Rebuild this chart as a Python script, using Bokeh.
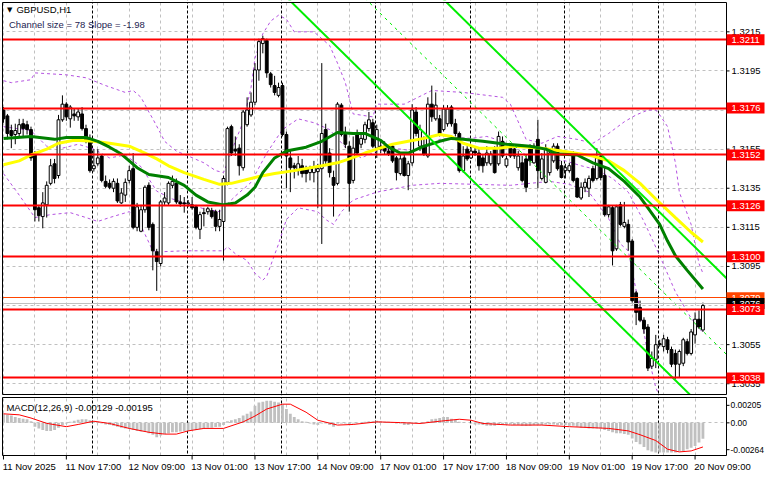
from bokeh.plotting import figure
from bokeh.layouts import column
from bokeh.models import Range1d, FixedTicker, Label, ColumnDataSource
from bokeh.core.properties import value
from bokeh.embed import file_html
from bokeh.resources import INLINE

# ---------------- data ----------------
symbol = "GBPUSD,H1"
bar_idx = list(range(1, 180))  # hourly bars, 0 = 11 Nov 00:00 (weekend skipped)

opens = [1.31750, 1.31720, 1.31645, 1.31625, 1.31630, 1.31680, 1.31675, 1.31650, 1.31525, 1.31250,
         1.31205, 1.31265, 1.31375, 1.31475, 1.31415, 1.31700, 1.31780, 1.31705, 1.31730, 1.31715,
         1.31730, 1.31655, 1.31605, 1.31450, 1.31475, 1.31515, 1.31385, 1.31375, 1.31350, 1.31375,
         1.31275, 1.31315, 1.31390, 1.31450, 1.31150, 1.31130, 1.31240, 1.31365, 1.31165, 1.31025,
         1.30965, 1.31280, 1.31275, 1.31365, 1.31375, 1.31280, 1.31275, 1.31270, 1.31265, 1.31255,
         1.31140, 1.31225, 1.31230, 1.31235, 1.31230, 1.31155, 1.31180, 1.31380, 1.31665, 1.31550,
         1.31555, 1.31455, 1.31675, 1.31725, 1.31790, 1.31955, 1.32090, 1.32105, 1.31935, 1.31875,
         1.31825, 1.31875, 1.31625, 1.31505, 1.31465, 1.31440, 1.31465, 1.31450, 1.31430, 1.31430,
         1.31435, 1.31450, 1.31650, 1.31530, 1.31405, 1.31375, 1.31775, 1.31625, 1.31565, 1.31390,
         1.31625, 1.31575, 1.31600, 1.31655, 1.31685, 1.31555, 1.31565, 1.31565, 1.31540, 1.31565,
         1.31505, 1.31425, 1.31505, 1.31415, 1.31480, 1.31740, 1.31565, 1.31565, 1.31515, 1.31780,
         1.31705, 1.31705, 1.31650, 1.31680, 1.31765, 1.31680, 1.31630, 1.31440, 1.31550, 1.31505,
         1.31540, 1.31530, 1.31505, 1.31480, 1.31475, 1.31550, 1.31475, 1.31590, 1.31465, 1.31565,
         1.31550, 1.31455, 1.31480, 1.31500, 1.31550, 1.31480, 1.31600, 1.31400, 1.31380, 1.31430,
         1.31490, 1.31565, 1.31465, 1.31440, 1.31440, 1.31525, 1.31400, 1.31300, 1.31355, 1.31350,
         1.31450, 1.31400, 1.31515, 1.31415, 1.31215, 1.31250, 1.31040, 1.31265, 1.31155, 1.31165,
         1.31080, 1.30815, 1.30740, 1.30675, 1.30640, 1.30440, 1.30475, 1.30555, 1.30540, 1.30575,
         1.30525, 1.30505, 1.30450, 1.30455, 1.30565, 1.30505, 1.30600, 1.30680, 1.30625]

highs = [1.31765, 1.31730, 1.31675, 1.31680, 1.31705, 1.31705, 1.31695, 1.31665, 1.31540, 1.31265,
         1.31330, 1.31385, 1.31500, 1.31500, 1.31725, 1.31825, 1.31790, 1.31775, 1.31760, 1.31755,
         1.31765, 1.31675, 1.31625, 1.31550, 1.31550, 1.31525, 1.31415, 1.31395, 1.31400, 1.31400,
         1.31350, 1.31400, 1.31465, 1.31530, 1.31275, 1.31265, 1.31365, 1.31380, 1.31175, 1.31040,
         1.31290, 1.31330, 1.31385, 1.31415, 1.31400, 1.31315, 1.31305, 1.31290, 1.31305, 1.31265,
         1.31230, 1.31250, 1.31255, 1.31250, 1.31240, 1.31240, 1.31415, 1.31665, 1.31675, 1.31615,
         1.31575, 1.31750, 1.31815, 1.31840, 1.31990, 1.32115, 1.32130, 1.32115, 1.31945, 1.31925,
         1.31890, 1.31890, 1.31640, 1.31540, 1.31480, 1.31515, 1.31500, 1.31465, 1.31465, 1.31490,
         1.31475, 1.31990, 1.31680, 1.31555, 1.31440, 1.31790, 1.31785, 1.31665, 1.31590, 1.31615,
         1.31650, 1.31625, 1.31690, 1.31740, 1.31705, 1.31675, 1.31590, 1.31590, 1.31565, 1.31575,
         1.31515, 1.31525, 1.31525, 1.31490, 1.31780, 1.31765, 1.31675, 1.31615, 1.31815, 1.31875,
         1.31840, 1.31725, 1.31775, 1.31775, 1.31775, 1.31705, 1.31640, 1.31565, 1.31565, 1.31565,
         1.31565, 1.31550, 1.31525, 1.31565, 1.31540, 1.31565, 1.31640, 1.31615, 1.31515, 1.31575,
         1.31565, 1.31540, 1.31515, 1.31525, 1.31575, 1.31580, 1.31700, 1.31530, 1.31575, 1.31540,
         1.31580, 1.31580, 1.31490, 1.31475, 1.31480, 1.31540, 1.31405, 1.31380, 1.31400, 1.31415,
         1.31465, 1.31555, 1.31530, 1.31455, 1.31265, 1.31260, 1.31265, 1.31280, 1.31280, 1.31190,
         1.31090, 1.30825, 1.30775, 1.30690, 1.30655, 1.30515, 1.30600, 1.30575, 1.30600, 1.30590,
         1.30540, 1.30525, 1.30525, 1.30585, 1.30580, 1.30630, 1.30715, 1.30725, 1.30765]

lows = [1.31685, 1.31600, 1.31555, 1.31575, 1.31615, 1.31615, 1.31625, 1.31490, 1.31180, 1.31180,
        1.31145, 1.31200, 1.31365, 1.31375, 1.31400, 1.31690, 1.31695, 1.31660, 1.31695, 1.31695,
        1.31645, 1.31580, 1.31430, 1.31435, 1.31465, 1.31380, 1.31350, 1.31345, 1.31330, 1.31275,
        1.31270, 1.31280, 1.31375, 1.31140, 1.31130, 1.31125, 1.31225, 1.31135, 1.30930, 1.30825,
        1.30950, 1.31265, 1.31265, 1.31350, 1.31270, 1.31255, 1.31225, 1.31255, 1.31240, 1.31140,
        1.31090, 1.31155, 1.31215, 1.31195, 1.31130, 1.31130, 1.30980, 1.31365, 1.31515, 1.31515,
        1.31415, 1.31440, 1.31665, 1.31715, 1.31775, 1.31900, 1.32040, 1.31915, 1.31865, 1.31825,
        1.31815, 1.31615, 1.31350, 1.31330, 1.31400, 1.31415, 1.31405, 1.31380, 1.31390, 1.31380,
        1.31250, 1.31065, 1.31465, 1.31405, 1.31205, 1.31365, 1.31615, 1.31555, 1.31230, 1.31375,
        1.31515, 1.31555, 1.31580, 1.31640, 1.31555, 1.31505, 1.31530, 1.31525, 1.31515, 1.31480,
        1.31390, 1.31415, 1.31410, 1.31340, 1.31465, 1.31615, 1.31540, 1.31515, 1.31505, 1.31690,
        1.31695, 1.31615, 1.31640, 1.31665, 1.31665, 1.31615, 1.31430, 1.31430, 1.31490, 1.31500,
        1.31515, 1.31440, 1.31430, 1.31465, 1.31465, 1.31425, 1.31465, 1.31505, 1.31455, 1.31505,
        1.31500, 1.31440, 1.31380, 1.31330, 1.31465, 1.31475, 1.31350, 1.31390, 1.31375, 1.31415,
        1.31480, 1.31440, 1.31400, 1.31400, 1.31430, 1.31380, 1.31300, 1.31290, 1.31330, 1.31305,
        1.31380, 1.31390, 1.31390, 1.31205, 1.31200, 1.30955, 1.31030, 1.31155, 1.31145, 1.31030,
        1.30765, 1.30650, 1.30665, 1.30605, 1.30415, 1.30425, 1.30430, 1.30540, 1.30515, 1.30505,
        1.30435, 1.30375, 1.30380, 1.30440, 1.30495, 1.30495, 1.30555, 1.30630, 1.30615]

closes = [1.31705, 1.31630, 1.31620, 1.31645, 1.31675, 1.31655, 1.31650, 1.31505, 1.31240, 1.31210,
          1.31275, 1.31365, 1.31465, 1.31400, 1.31700, 1.31780, 1.31715, 1.31765, 1.31720, 1.31740,
          1.31655, 1.31590, 1.31440, 1.31465, 1.31505, 1.31390, 1.31360, 1.31355, 1.31385, 1.31285,
          1.31325, 1.31380, 1.31440, 1.31150, 1.31255, 1.31240, 1.31355, 1.31150, 1.31030, 1.30975,
          1.31280, 1.31300, 1.31375, 1.31385, 1.31280, 1.31270, 1.31270, 1.31275, 1.31250, 1.31150,
          1.31215, 1.31220, 1.31245, 1.31205, 1.31155, 1.31190, 1.31400, 1.31655, 1.31530, 1.31540,
          1.31465, 1.31740, 1.31750, 1.31790, 1.31955, 1.32100, 1.32115, 1.31940, 1.31880, 1.31840,
          1.31865, 1.31625, 1.31515, 1.31455, 1.31455, 1.31475, 1.31425, 1.31425, 1.31450, 1.31460,
          1.31450, 1.31630, 1.31490, 1.31430, 1.31365, 1.31780, 1.31625, 1.31575, 1.31375, 1.31555,
          1.31530, 1.31605, 1.31675, 1.31700, 1.31565, 1.31650, 1.31550, 1.31540, 1.31525, 1.31490,
          1.31430, 1.31500, 1.31415, 1.31475, 1.31750, 1.31630, 1.31650, 1.31525, 1.31780, 1.31715,
          1.31775, 1.31630, 1.31755, 1.31755, 1.31680, 1.31630, 1.31440, 1.31515, 1.31500, 1.31540,
          1.31530, 1.31465, 1.31465, 1.31530, 1.31525, 1.31430, 1.31615, 1.31515, 1.31500, 1.31515,
          1.31515, 1.31515, 1.31390, 1.31355, 1.31490, 1.31565, 1.31440, 1.31500, 1.31555, 1.31530,
          1.31565, 1.31450, 1.31405, 1.31455, 1.31465, 1.31390, 1.31305, 1.31355, 1.31380, 1.31400,
          1.31390, 1.31505, 1.31405, 1.31215, 1.31255, 1.31030, 1.31255, 1.31165, 1.31175, 1.31075,
          1.30775, 1.30715, 1.30675, 1.30630, 1.30430, 1.30480, 1.30550, 1.30550, 1.30580, 1.30525,
          1.30450, 1.30450, 1.30515, 1.30575, 1.30505, 1.30615, 1.30680, 1.30640, 1.30750]

# moving averages (dark green and yellow), read at sample bars
ma_green_idx = [1, 8, 14, 17, 22, 25, 28, 31, 35, 38, 43, 47, 50, 53, 57, 60, 63, 65, 67, 70, 73, 78, 82,
                86, 90, 93, 97, 99, 102, 104, 108, 112, 115, 118, 123, 129, 135, 139, 142, 147, 151, 155,
                159, 163, 165, 168, 170, 172, 175, 179]
ma_green = [1.31605, 1.31615, 1.31600, 1.31610, 1.31610, 1.31590, 1.31560, 1.31525, 1.31455, 1.31420,
            1.31405, 1.31365, 1.31315, 1.31280, 1.31265, 1.31275, 1.31315, 1.31355, 1.31430, 1.31505,
            1.31540, 1.31560, 1.31590, 1.31635, 1.31630, 1.31630, 1.31595, 1.31560, 1.31530, 1.31530,
            1.31565, 1.31590, 1.31605, 1.31600, 1.31590, 1.31575, 1.31565, 1.31550, 1.31525, 1.31520,
            1.31480, 1.31450, 1.31385, 1.31305, 1.31250, 1.31165, 1.31080, 1.31005, 1.30930, 1.30835]
ma_yellow_idx = [1, 5, 8, 12, 15, 19, 24, 28, 33, 37, 40, 43, 47, 52, 56, 59, 63, 66, 70, 75, 82, 86, 89,
                 93, 96, 100, 104, 108, 112, 115, 118, 122, 127, 131, 138, 143, 148, 151, 155, 159, 163,
                 167, 172, 176, 179]
ma_yellow = [1.31470, 1.31490, 1.31520, 1.31550, 1.31580, 1.31595, 1.31590, 1.31580, 1.31565, 1.31530,
             1.31500, 1.31465, 1.31430, 1.31395, 1.31370, 1.31375, 1.31395, 1.31410, 1.31425, 1.31440,
             1.31465, 1.31480, 1.31500, 1.31530, 1.31550, 1.31575, 1.31590, 1.31605, 1.31625, 1.31615,
             1.31580, 1.31555, 1.31555, 1.31565, 1.31555, 1.31540, 1.31525, 1.31515, 1.31490, 1.31440,
             1.31375, 1.31295, 1.31200, 1.31125, 1.31075]

# Bollinger bands (purple dashed), read at sample bars
bb_upper_idx = [1, 3, 8, 9, 17, 22, 27, 32, 34, 36, 38, 39, 41, 42, 45, 48, 52, 55, 57, 58, 60, 62, 64,
                65, 67, 69, 71, 73, 75, 80, 84, 86, 88, 90, 95, 96, 103, 110, 118, 128, 130, 134, 138,
                142, 147, 151, 155, 159, 162, 165, 167, 168, 170, 172, 173, 176, 178, 179]
bb_upper = [1.31900, 1.31890, 1.31905, 1.31940, 1.31930, 1.31915, 1.31875, 1.31840, 1.31850, 1.31815,
            1.31740, 1.31705, 1.31630, 1.31590, 1.31540, 1.31515, 1.31480, 1.31440, 1.31430, 1.31480,
            1.31590, 1.31690, 1.31865, 1.32015, 1.32140, 1.32205, 1.32235, 1.32215, 1.32150, 1.32150,
            1.32080, 1.31990, 1.31890, 1.31730, 1.31715, 1.31780, 1.31780, 1.31850, 1.31840, 1.31815,
            1.31780, 1.31600, 1.31580, 1.31615, 1.31600, 1.31580, 1.31630, 1.31690, 1.31725, 1.31750,
            1.31750, 1.31725, 1.31665, 1.31480, 1.31330, 1.31165, 1.30965, 1.30915]
bb_mid_idx = [1, 8, 12, 16, 20, 24, 28, 32, 36, 40, 44, 48, 52, 56, 60, 64, 68, 72, 76, 80, 84, 88, 92,
              96, 100, 104, 108, 112, 116, 120, 124, 128, 132, 136, 140, 144, 148, 152, 156, 160, 164,
              168, 172, 176, 179]
bb_mid = [1.31665, 1.31645, 1.31565, 1.31555, 1.31575, 1.31550, 1.31505, 1.31520, 1.31460, 1.31335,
          1.31295, 1.31270, 1.31245, 1.31230, 1.31310, 1.31380, 1.31530, 1.31650, 1.31705, 1.31685,
          1.31650, 1.31560, 1.31505, 1.31540, 1.31555, 1.31545, 1.31555, 1.31600, 1.31610, 1.31605,
          1.31615, 1.31590, 1.31545, 1.31495, 1.31495, 1.31490, 1.31465, 1.31445, 1.31400, 1.31330,
          1.31180, 1.31005, 1.30820, 1.30685, 1.30610]
bb_lower_idx = [1, 5, 9, 13, 18, 22, 25, 28, 33, 35, 37, 39, 41, 47, 57, 58, 60, 63, 65, 67, 68, 71, 73,
                76, 81, 83, 85, 87, 90, 96, 105, 112, 130, 140, 145, 150, 155, 158, 160, 163, 165, 167,
                168, 170, 172, 174, 176, 177, 178, 179]
bb_lower = [1.31425, 1.31315, 1.31200, 1.31215, 1.31225, 1.31200, 1.31180, 1.31200, 1.31230, 1.31200,
            1.31115, 1.31030, 1.31025, 1.31030, 1.31030, 1.31050, 1.31015, 1.30980, 1.30915, 1.30880,
            1.30900, 1.31065, 1.31190, 1.31250, 1.31230, 1.31190, 1.31165, 1.31230, 1.31290, 1.31330,
            1.31365, 1.31375, 1.31365, 1.31385, 1.31370, 1.31330, 1.31195, 1.31065, 1.31030, 1.30725,
            1.30500, 1.30330, 1.30285, 1.30190, 1.30175, 1.30210, 1.30230, 1.30265, 1.30280, 1.30295]

# regression channel
channel_size_pips = 78
channel_slope_pips = -1.98
channel_bars = [60, 185]
channel_mid_at_end = 1.30500

# horizontal levels
level_prices = [1.3211, 1.3176, 1.3152, 1.3126, 1.3100, 1.3073, 1.3038]
alert_price = 1.3079
bid_price = 1.3076

price_ticks = [1.3035, 1.3055, 1.3075, 1.3095, 1.3115, 1.3135, 1.3155, 1.3175, 1.3195, 1.3215]
day_start_bars = [24, 48, 72, 96, 120, 144, 168]
grid_bars = list(range(1, 186, 8))
time_tick_bars = [1, 17, 33, 49, 65, 81, 97, 113, 129, 145, 161, 177]
time_tick_labels = ["11 Nov 2025", "11 Nov 17:00", "12 Nov 09:00", "13 Nov 01:00", "13 Nov 17:00",
                    "14 Nov 09:00", "17 Nov 01:00", "17 Nov 17:00", "18 Nov 09:00", "19 Nov 01:00",
                    "19 Nov 17:00", "20 Nov 09:00"]

# MACD(12,26,9)
macd_hist = [0.00073, 0.00065, 0.00060, 0.00047, 0.00039, 0.00034, 0.00029, 0.00013, -0.00031, -0.00045,
             -0.00057, -0.00065, -0.00065, -0.00057, -0.00039, -0.00018, -0.00005, 0.00008, 0.00018, 0.00026,
             0.00029, 0.00029, 0.00021, 0.00013, 0.00008, -0.00005, -0.00013, -0.00018, -0.00023, -0.00031,
             -0.00039, -0.00045, -0.00045, -0.00057, -0.00065, -0.00070, -0.00070, -0.00084, -0.00096, -0.00117,
             -0.00102, -0.00091, -0.00084, -0.00076, -0.00076, -0.00070, -0.00065, -0.00065, -0.00057, -0.00057,
             -0.00049, -0.00045, -0.00039, -0.00039, -0.00034, -0.00031, -0.00018, 0.00013, 0.00021, 0.00029,
             0.00039, 0.00060, 0.00073, 0.00091, 0.00138, 0.00164, 0.00170, 0.00178, 0.00178, 0.00170,
             0.00164, 0.00151, 0.00112, 0.00073, 0.00047, 0.00029, 0.00013, 0.00008, -0.00005, -0.00013,
             -0.00018, -0.00005, -0.00005, -0.00018, -0.00031, -0.00005, -0.00005, -0.00005, -0.00018, -0.00005,
             -0.00005, 0.00000, 0.00008, 0.00013, 0.00013, 0.00018, 0.00013, 0.00008, 0.00008, 0.00002,
             -0.00005, -0.00005, -0.00018, -0.00018, -0.00005, 0.00000, 0.00000, -0.00005, 0.00013, 0.00029,
             0.00034, 0.00039, 0.00047, 0.00047, 0.00034, 0.00026, 0.00008, 0.00002, 0.00000, -0.00005,
             -0.00013, -0.00013, -0.00018, -0.00023, -0.00023, -0.00023, -0.00018, -0.00013, -0.00013, -0.00013,
             -0.00018, -0.00018, -0.00023, -0.00026, -0.00023, -0.00018, -0.00018, -0.00018, -0.00013, -0.00013,
             -0.00013, -0.00018, -0.00018, -0.00018, -0.00023, -0.00023, -0.00031, -0.00039, -0.00039, -0.00045,
             -0.00045, -0.00045, -0.00045, -0.00057, -0.00065, -0.00076, -0.00084, -0.00084, -0.00091, -0.00096,
             -0.00127, -0.00154, -0.00174, -0.00196, -0.00221, -0.00232, -0.00240, -0.00240, -0.00240, -0.00240,
             -0.00240, -0.00240, -0.00232, -0.00227, -0.00213, -0.00201, -0.00188, -0.00158, -0.00129]
macd_signal_idx = [1, 5, 8, 12, 17, 20, 24, 28, 33, 38, 42, 45, 48, 52, 57, 62, 65, 68, 72, 74, 78, 81,
                   86, 90, 96, 102, 107, 112, 117, 120, 123, 130, 138, 145, 151, 155, 160, 163, 167, 170,
                   173, 176, 179]
macd_signal = [0.00073, 0.00065, 0.00039, -0.00004, -0.00031, -0.00013, 0.00013, -0.00005, -0.00045,
               -0.00076, -0.00091, -0.00091, -0.00065, -0.00045, -0.00045, 0.00008, 0.00055, 0.00112,
               0.00151, 0.00151, 0.00086, 0.00021, -0.00018, -0.00013, 0.00008, 0.00002, -0.00005,
               0.00013, 0.00029, 0.00021, -0.00005, -0.00018, -0.00018, -0.00031, -0.00039, -0.00045,
               -0.00065, -0.00096, -0.00143, -0.00213, -0.00235, -0.00227, -0.00195]
macd_range = [-0.00264, 0.00205]
macd_axis_labels = ["0.00205", "0.00", "-0.00264"]

# ---------------- layout geometry (canvas pixels) ----------------
FONT = "Liberation Sans"
FS = "9.5px"
GRID = "#C0C0C0"

W = 765
CH_L, CH_R = 2, 726               # chart area, left/right edges
X0, X1 = 0.75, 185.0              # bar positions at those edges
kx = (CH_R - CH_L) / (X1 - X0)
XS, XE = X0 - CH_L / kx, X1 + (W - CH_R) / kx

H1, M_T, M_B = 395, 2, 394        # main panel
P_LO, P_HI = 1.30295, 1.32300
ky = (M_B - M_T) / (P_HI - P_LO)
H2, D_T, D_B = 78, 2, 60          # MACD panel (labels below)
D_LO, D_HI = macd_range
kd = (D_B - D_T) / (D_HI - D_LO)


def make_fig(h, y0, y1):
    f = figure(width=W, height=h, x_range=Range1d(XS, XE), y_range=Range1d(y0, y1),
               output_backend="svg", toolbar_location=None, x_axis_location=None,
               y_axis_location=None, min_border=0, outline_line_color=None,
               background_fill_color="white", border_fill_color="white")
    f.xgrid.ticker = FixedTicker(ticks=grid_bars)
    for g in f.grid:
        g.grid_line_color = GRID
        g.grid_line_dash = "3 3"
        g.grid_line_width = 1
    return f


def cover(f, lo, hi, bottom, top):
    # white margins around the chart area (right scale, label strip)
    f.quad(left=[XS, X1, XS, XS], right=[X0, XE, XE, XE],
           bottom=[bottom, bottom, bottom, hi], top=[top, top, lo, top],
           fill_color="white", line_color=None)


# ---------------- main panel ----------------
y_lo_main = P_LO - (H1 - M_B) / ky
y_hi_main = P_HI + M_T / ky
main = make_fig(H1, y_lo_main, y_hi_main)
main.ygrid.ticker = FixedTicker(ticks=price_ticks)

main.vspan(x=[d - 0.25 for d in day_start_bars], line_color="black", line_dash="3 2", line_width=1)

for xi, yv in ((bb_upper_idx, bb_upper), (bb_mid_idx, bb_mid), (bb_lower_idx, bb_lower)):
    main.line(xi, yv, line_color="#B452E0", line_width=1, line_dash="3 3")

src = ColumnDataSource(dict(
    x=bar_idx, o=opens, h=highs, l=lows, c=closes,
    top=[max(a, b) for a, b in zip(opens, closes)],
    bottom=[min(a, b) for a, b in zip(opens, closes)],
    fill=["white" if c >= o else "black" for o, c in zip(opens, closes)],
))
main.segment(x0="x", y0="l", x1="x", y1="h", source=src, line_color="black", line_width=1)
main.vbar(x="x", top="top", bottom="bottom", width=0.72, source=src,
          fill_color="fill", line_color="black", line_width=1)

main.line(ma_yellow_idx, ma_yellow, line_color="#FFFF00", line_width=3)
main.line(ma_green_idx, ma_green, line_color="#008000", line_width=3)

slope = channel_slope_pips * 0.0001
half = channel_size_pips * 0.0001 / 2
mid = [channel_mid_at_end - slope * (channel_bars[1] - b) for b in channel_bars]
main.line(channel_bars, [m + half for m in mid], line_color="#00EE00", line_width=2)
main.line(channel_bars, [m - half for m in mid], line_color="#00EE00", line_width=2)
main.line(channel_bars, mid, line_color="#00EE00", line_width=1, line_dash="3 4")

main.hspan(y=[bid_price], line_color="#C0C0C0", line_width=1)
main.hspan(y=[alert_price], line_color="#FF4500", line_width=1)
main.hspan(y=level_prices, line_color="#FF0000", line_width=2)

cover(main, P_LO, P_HI, y_lo_main, y_hi_main)
main.quad(left=[X0], right=[X1], bottom=[P_LO], top=[P_HI], fill_color=None,
          line_color="black", line_width=1)

# price scale: ticks + labels
n_p = len(price_ticks)
main.segment(x0=[X1] * n_p, x1=[X1 + 3 / kx] * n_p, y0=price_ticks, y1=price_ticks,
             line_color="black", line_width=1)
main.text(x=[X1 + 5 / kx] * n_p, y=price_ticks,
          text=["%.4f" % t for t in price_ticks], text_font=value(FONT), text_font_size=value(FS),
          text_color="black", text_align="left", text_baseline="middle")

# price tags (drawn in order so later tags overlap earlier ones)
tag_prices = [alert_price, bid_price] + level_prices
tag_colors = ["#FF4500", "black"] + ["#FF0000"] * len(level_prices)
for p_, c_ in zip(tag_prices, tag_colors):
    main.rect(x=[X1 + 19 / kx], y=[p_], width=38, height=11, width_units="screen",
              height_units="screen", fill_color=c_, line_color=None)
    main.text(x=[X1 + 5 / kx], y=[p_], text=["%.4f" % p_], text_font=value(FONT),
              text_font_size=value(FS), text_color="white", text_align="left",
              text_baseline="middle")

main.add_layout(Label(x=1.9, y=1.32262, text="\u25BC", text_font="DejaVu Sans", text_font_size="7px",
                      text_color="black", text_baseline="middle", text_align="left"))
main.add_layout(Label(x=4.3, y=1.32262, text=symbol, text_font=FONT, text_font_size=FS,
                      text_color="black", text_baseline="middle", text_align="left"))
main.add_layout(Label(x=2.4, y=1.32190,
                      text="Channel size = %d Slope = %.2f" % (channel_size_pips, channel_slope_pips),
                      text_font=FONT, text_font_size=FS, text_color="#1C2350",
                      text_baseline="middle", text_align="left"))

# ---------------- MACD panel ----------------
y_lo_m = D_LO - (H2 - D_B) / kd
y_hi_m = D_HI + D_T / kd
macd = make_fig(H2, y_lo_m, y_hi_m)
macd.ygrid.ticker = FixedTicker(ticks=[0])

macd.vspan(x=[d - 0.25 for d in day_start_bars], line_color="black", line_dash="3 2", line_width=1)
macd.vbar(x=bar_idx, top=macd_hist, bottom=0, width=0.72, fill_color="#C0C0C0", line_color=None)
macd.line(macd_signal_idx, macd_signal, line_color="#FF0000", line_width=1)

cover(macd, D_LO, D_HI, y_lo_m, y_hi_m)
macd.quad(left=[X0], right=[X1], bottom=[D_LO], top=[D_HI], fill_color=None,
          line_color="black", line_width=1)

span_m = D_HI - D_LO
macd_tick_pos = [D_HI - 0.135 * span_m, 0.0, D_LO + 0.10 * span_m]
macd.segment(x0=[X1] * 3, x1=[X1 + 3 / kx] * 3, y0=macd_tick_pos, y1=macd_tick_pos,
             line_color="black", line_width=1)
macd.text(x=[X1 + 4 / kx] * 3, y=macd_tick_pos, text=macd_axis_labels, text_font=value(FONT),
          text_font_size=value("8.5px"), text_color="black", text_align="left",
          text_baseline="middle")

# time scale
n_t = len(time_tick_bars)
macd.segment(x0=time_tick_bars, x1=time_tick_bars, y0=[D_LO] * n_t, y1=[D_LO - 4 / kd] * n_t,
             line_color="black", line_width=1)
macd.text(x=[b - 0.2 for b in time_tick_bars], y=[D_LO - 5 / kd] * n_t, text=time_tick_labels,
          text_font=value(FONT), text_font_size=value(FS), text_color="black",
          text_align="left", text_baseline="top")

macd.add_layout(Label(x=1.75, y=D_HI - 0.17 * span_m,
                      text="MACD(12,26,9) %.5f %.5f" % (macd_hist[-1], macd_signal[-1]),
                      text_font=FONT, text_font_size=FS, text_color="black",
                      text_baseline="middle", text_align="left"))

layout = column(main, macd, spacing=0)
open("out.html", "w").write(file_html(layout, INLINE))
